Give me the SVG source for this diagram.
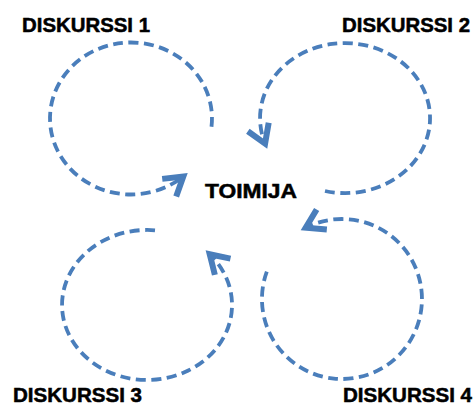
<svg xmlns="http://www.w3.org/2000/svg" width="474" height="407" viewBox="0 0 474 407">
<style>
.lbl{font-family:"Liberation Sans",Arial,sans-serif;font-weight:bold;font-size:19.5px;fill:#000;stroke:#000;stroke-width:0.5}
.arc{fill:none;stroke:#4a7ebb;stroke-width:3.8;stroke-dasharray:10 5.5}
.head{fill:none;stroke:#4a7ebb;stroke-width:4;stroke-dasharray:none;stroke-linejoin:miter}
</style>
<defs>
<marker id="arr" markerUnits="userSpaceOnUse" markerWidth="30" markerHeight="30" refX="0" refY="0" viewBox="-16 -10 20 20" orient="auto" overflow="visible">
<path class="head" d="M -12 -7.5 L 0 0 L -12 7.5"/>
</marker>
</defs>
<rect width="474" height="407" fill="#fff"/>
<g id="connectors">
<path class="arc" d="M 211.5 126.8 A 81 76 0 1 0 183.3 176.5" marker-end="url(#arr)"/>
<path class="arc" d="M 325 191 A 85 75 0 1 0 265.1 143.6" marker-end="url(#arr)"/>
<path class="arc" d="M 155 230.3 A 85 75 0 1 0 209.7 254.3" marker-end="url(#arr)"/>
<path class="arc" d="M 266.8 271.6 A 80 80 0 1 0 305.7 227.7" marker-end="url(#arr)"/>
</g>
<g id="diskurssi1"><text class="lbl" x="22" y="32" textLength="128" lengthAdjust="spacingAndGlyphs">DISKURSSI 1</text></g>
<g id="diskurssi2"><text class="lbl" x="342" y="32" textLength="128" lengthAdjust="spacingAndGlyphs">DISKURSSI 2</text></g>
<g id="toimija"><text class="lbl" x="205" y="198" textLength="92" lengthAdjust="spacingAndGlyphs">TOIMIJA</text></g>
<g id="diskurssi3"><text class="lbl" x="13" y="402" textLength="129" lengthAdjust="spacingAndGlyphs">DISKURSSI 3</text></g>
<g id="diskurssi4"><text class="lbl" x="343" y="402" textLength="129" lengthAdjust="spacingAndGlyphs">DISKURSSI 4</text></g>
</svg>
